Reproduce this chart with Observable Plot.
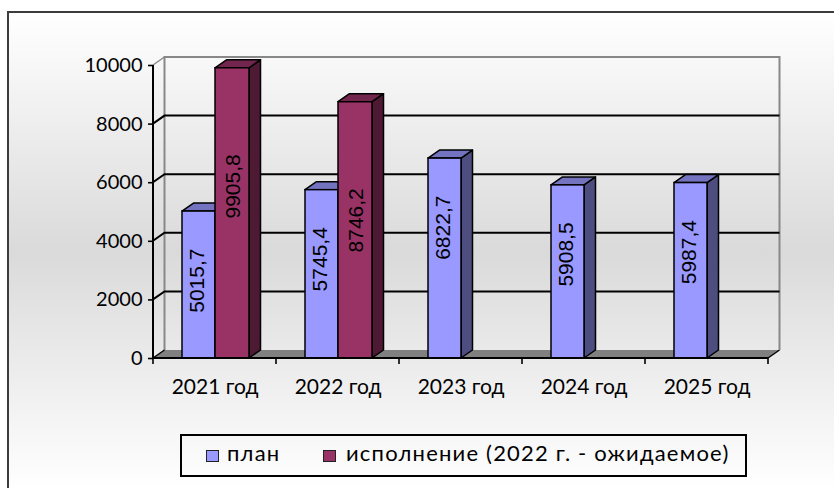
<!DOCTYPE html>
<html>
<head>
<meta charset="utf-8">
<script src="https://cdn.jsdelivr.net/npm/d3@7"></script>
<script src="https://cdn.jsdelivr.net/npm/@observablehq/plot@0.6"></script>
<style>
html, body { margin: 0; padding: 0; background: #fff; }
#wrap { position: relative; width: 834px; height: 488px; overflow: hidden; }
#frame { position: absolute; left: 7px; top: 11px; width: 900px; height: 560px;
  border-left: 2px solid #3c3c3c; border-top: 2px solid #3c3c3c;
  background: linear-gradient(to bottom, #ffffff 0px, #dadada 239px, #ffffff 477px); }
#chart { position: absolute; left: 0; top: 0; }
#chart [aria-label^="x-axis"] text { font-size: 21px; }
#chart [aria-label^="y-axis"] path, #chart [aria-label^="y-axis"] line { stroke-width: 1.6px; }
#legend { position: absolute; left: 180px; top: 434px; width: 567px; height: 43px; box-sizing: border-box;
  border: 2px solid #000; font-family: Lato, sans-serif; font-size: 22px; color: #000; }
#legend .sw { position: absolute; top: 14px; width: 13px; height: 12px; box-sizing: border-box; border: 1.5px solid #222; }
#legend .tx { position: absolute; top: 6px; line-height: 22px; white-space: nowrap; letter-spacing: 1.2px; }
</style>
</head>
<body>
<div id="wrap">
  <div id="frame"></div>
  <div id="chart"></div>
  <div id="legend"></div>
</div>
<script>
const years = ["2021 год", "2022 год", "2023 год", "2024 год", "2025 год"];
const plan = [5015.7, 5745.4, 6822.7, 5908.5, 5987.4];
const actual = [9905.8, 8746.2, null, null, null];
const yTicks = [0, 2000, 4000, 6000, 8000, 10000];
const seriesNames = ["план", "исполнение (2022 г. - ожидаемое)"];
const seriesColors = ["#9999ff", "#993366"];
const topColors = ["#7373bf", "#73264d"];
const sideColors = ["#4d4d80", "#4d1933"];

const planRows = years.map((year, i) => ({year, value: plan[i]}));
const actRows = years.map((year, i) => ({year, value: actual[i]})).filter(d => d.value != null);

const DX = 11.5, DY = -8;
const yMaxV = d3.max(yTicks);
const fmt = v => v.toFixed(1).replace(".", ",");

function walls(index, scales, values, dims) {
  const y = scales.y;
  const left = dims.marginLeft, right = dims.width - dims.marginRight;
  const y0 = y(0), yM = y(yMaxV);
  const g = d3.create("svg:g").attr("fill", "none");
  g.append("path").attr("d", `M${left},${y0}L${right},${y0}L${right + DX},${y0 + DY}L${left + DX},${y0 + DY}Z`)
    .attr("fill", "#808080");
  g.append("path").attr("d", `M${right},${y0}L${right + DX},${y0 + DY}`).attr("stroke", "#000").attr("stroke-width", 1.5);
  g.append("path").attr("d", `M${left + DX},${y0 + DY}V${yM + DY}H${right + DX}V${y0 + DY}`)
    .attr("stroke", "#888").attr("stroke-width", 2);
  g.append("path").attr("d", `M${left},${yM}L${left + DX},${yM + DY}`).attr("stroke", "#888").attr("stroke-width", 1.5);
  for (const t of yTicks) {
    if (t === 0 || t === yMaxV) continue;
    const yy = y(t);
    g.append("path").attr("d", `M${left},${yy}L${left + DX},${yy + DY}H${right + DX}`)
      .attr("stroke", "#000").attr("stroke-width", 2);
  }
  g.append("path").attr("d", `M${left},${y0}L${left + DX},${y0 + DY}`).attr("stroke", "#000").attr("stroke-width", 1.5);
  return g.node();
}

function faces(rows, insL, insR, topC, sideC) {
  return (index, scales) => {
    const {x, y} = scales;
    const bw = x.bandwidth();
    const g = d3.create("svg:g").attr("stroke", "#000").attr("stroke-width", 1.5).attr("stroke-linejoin", "round");
    for (const d of rows) {
      const l = x(d.year) + insL, r = x(d.year) + bw - insR, t = y(d.value), b = y(0);
      g.append("path").attr("d", `M${r},${t}L${r + DX},${t + DY}L${r + DX},${b + DY}L${r},${b}Z`).attr("fill", sideC);
      g.append("path").attr("d", `M${l},${t}L${l + DX},${t + DY}L${r + DX},${t + DY}L${r},${t}Z`).attr("fill", topC);
    }
    return g.node();
  };
}

function frontAxes(index, scales, values, dims) {
  const {x, y} = scales;
  const left = dims.marginLeft, right = dims.width - dims.marginRight;
  const y0 = y(0), yM = y(yMaxV);
  const g = d3.create("svg:g").attr("fill", "none").attr("stroke", "#000");
  g.append("path").attr("d", `M${left},${yM}V${y0}H${right}`).attr("stroke-width", 2);
  const xs = years.map(v => x(v)).concat([right]);
  for (const xb of xs) g.append("path").attr("d", `M${xb},${y0}v6`).attr("stroke-width", 1.6);
  return g.node();
}

const chart = Plot.plot({
  width: 834,
  height: 430,
  marginLeft: 153,
  marginRight: 66,
  marginTop: 65,
  marginBottom: 72,
  style: {background: "transparent", fontFamily: "Lato, sans-serif", fontSize: "20px", color: "#000", overflow: "visible"},
  x: {domain: years, padding: 0, label: null, tickSize: 0, tickPadding: 21},
  y: {domain: [0, yMaxV], ticks: yTicks.length - 1, tickFormat: d => String(d), tickSize: 5, tickPadding: 6, label: null},
  marks: [
    walls,
    faces(planRows, 29, 61, topColors[0], sideColors[0]),
    Plot.barY(planRows, {x: "year", y: "value", fill: seriesColors[0], stroke: "#000", strokeWidth: 1.5, insetLeft: 29, insetRight: 61}),
    faces(actRows, 62, 27, topColors[1], sideColors[1]),
    Plot.barY(actRows, {x: "year", y: "value", fill: seriesColors[1], stroke: "#000", strokeWidth: 1.5, insetLeft: 62, insetRight: 27}),
    frontAxes,
    Plot.text(planRows, {x: "year", y: "value", text: d => fmt(d.value), rotate: -90, textAnchor: "end",
      dx: -18, dy: 37, fill: "#000", fontFamily: "'Liberation Sans', Arial, sans-serif", fontSize: 21}),
    Plot.text(actRows, {x: "year", y: "value", text: d => fmt(d.value), rotate: -90, textAnchor: "end",
      dx: 18, dy: 86, fill: "#000", fontFamily: "'Liberation Sans', Arial, sans-serif", fontSize: 21})
  ]
});
document.getElementById("chart").appendChild(chart);

// legend
const legend = d3.select("#legend");
const swLeft = [24, 141], txLeft = [45, 164];
seriesNames.forEach((name, i) => {
  legend.append("div").attr("class", "sw").style("left", swLeft[i] + "px").style("background", seriesColors[i]);
  legend.append("div").attr("class", "tx").style("left", txLeft[i] + "px").text(name);
});
</script>
</body>
</html>
